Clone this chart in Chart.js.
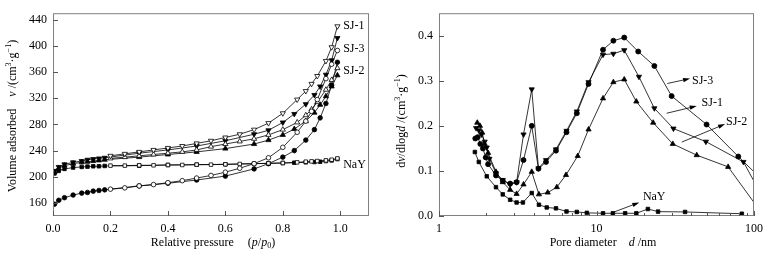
<!DOCTYPE html>
<html><head><meta charset="utf-8">
<script src="https://cdn.jsdelivr.net/npm/chart.js@4/dist/chart.umd.min.js"></script>
<style>
html,body{margin:0;padding:0;background:#fff;}
#wrap{position:relative;width:770px;height:254px;overflow:hidden;}
canvas{position:absolute;top:0;}
</style></head><body>
<div id="wrap">
<canvas id="left" width="385" height="254" style="left:0"></canvas>
<canvas id="right" width="385" height="254" style="left:385px"></canvas>
</div>
<script>
// ---------- Left chart: N2 isotherms ----------
const pAds = [0.005,0.02,0.04,0.07,0.10,0.12,0.14,0.16,0.18,0.30,0.40,0.50,0.60,0.70,0.75,0.80,0.84,0.88,0.91,0.93,0.95,0.97,0.99];
const pDes = [0.99,0.97,0.95,0.92,0.90,0.88,0.85,0.80,0.75,0.70,0.65,0.60,0.55,0.50,0.45,0.40,0.35,0.30,0.25,0.20];
const sj1Ads = [209,215,219,222,224,226,227,228,229,236,241,247,255,265,271,283,296,311,325,338,356,378,412];
const sj1Des = [430,398,377,354,342,331,318,297,282,272,265,260,255,251,247,244,241,238,235,232];
const sj3Ads = [158,164,168,172,175,176,178,179,180,186,190,195,201,212,220,230,240,256,272,290,312,340,375];
const sj3Des = [393,372,350,318,300,285,268,245,229,220,213,207,202,198,194,191,188,186,183,181];
const sj2Ads = [207,213,217,220,222,223,224,225,226,230,234,238,243,250,256,264,273,285,298,310,323,338,355];
const sj2Des = [366,348,333,314,303,294,283,272,264,258,254,250,246,241,238,236,234,232,230,228];
const naYAds = [205,209,212,214,215,215.5,216,216,216.5,217,218,218.5,219,220,220.5,221,221.5,222,222.5,223,224,225,227];
const naYDes = [228,226,225,224,223.5,223,222,221,220.5,220,219.5,219,218.5,218.5,218,218,217.5,217.5,217,217];
const leftXTicks = [0.0,0.2,0.4,0.6,0.8,1.0];
const leftYTicks = [160,200,240,280,320,360,400,440];

// ---------- Right chart: BJH pore size distribution ----------
const dSJ1 = [1.72,1.79,1.86,1.95,2.01,2.09,2.30,2.54,2.83,3.11,3.44,3.88,4.28,4.78,5.53,6.45,7.50,8.90,11.0,12.8,15.0,18.6,23.3,30.8,49.5,85.7,100];
const vSJ1 = [0.195,0.190,0.181,0.165,0.152,0.127,0.095,0.080,0.070,0.075,0.181,0.281,0.106,0.124,0.148,0.189,0.232,0.297,0.358,0.360,0.368,0.309,0.239,0.194,0.165,0.120,0.077];
const dSJ3 = [1.70,1.76,1.83,1.90,1.98,2.05,2.30,2.54,2.83,3.11,3.44,3.88,4.28,4.78,5.53,6.45,7.50,8.90,11.0,12.8,15.0,18.4,23.3,30.0,50.0,79.5,100];
const vSJ3 = [0.172,0.175,0.160,0.150,0.130,0.115,0.090,0.078,0.072,0.075,0.124,0.200,0.105,0.120,0.145,0.186,0.228,0.293,0.369,0.389,0.396,0.365,0.333,0.266,0.203,0.132,0.098];
const dSJ2 = [1.75,1.82,1.88,1.95,2.05,2.30,2.54,2.83,3.11,3.44,3.88,4.31,4.90,5.60,6.40,7.60,8.90,11.0,12.8,15.0,17.9,22.9,30.5,43.3,68.5,100];
const vSJ2 = [0.207,0.200,0.185,0.160,0.140,0.098,0.075,0.058,0.049,0.070,0.098,0.048,0.052,0.064,0.091,0.133,0.192,0.261,0.297,0.303,0.254,0.207,0.160,0.135,0.109,0.030];
const dNaY = [1.69,1.79,2.01,2.30,2.54,2.83,3.11,3.41,3.88,4.31,4.83,5.53,6.45,7.50,8.68,11.0,12.7,15.2,17.9,21.2,24.6,36.5,83.7];
const vNaY = [0.142,0.120,0.088,0.064,0.048,0.036,0.030,0.030,0.051,0.025,0.019,0.017,0.010,0.009,0.007,0.006,0.006,0.006,0.006,0.0155,0.0097,0.009,0.005];
const rightXTicks = [1,10,100];
const rightXMinor = [2,3,4,5,6,7,8,9,20,30,40,50,60,70,80,90];
const rightYTicks = [0.0,0.1,0.2,0.3,0.4];

const FONT = '"Liberation Serif","Times New Roman",serif';
const pts = (xs, ys) => xs.map((x,i)=>({x, y: ys[i]}));

function ds(xs, ys, style, filled, rot, radius){
  return {
    data: pts(xs, ys), showLine: true, borderColor:'#000', borderWidth:0.8,
    pointStyle: style, rotation: rot||0,
    pointBackgroundColor: filled ? '#000' : '#fff', pointBorderColor:'#000', pointBorderWidth:0.8,
    pointRadius: c => (c.raw && c.raw.x >= 100) ? 0 : (radius||2.5),
    tension:0
  };
}

function fontFor(s, base){
  const size = (s.sup||s.sub) ? Math.round(base*0.68) : base;
  return (s.i ? 'italic ' : '') + size + 'px ' + FONT;
}
function drawRich(ctx, segs, cx, cy, rot, base){
  ctx.save();
  ctx.translate(cx, cy);
  if (rot) ctx.rotate(-Math.PI/2);
  let w = 0;
  segs.forEach(s => { if (s.gap){ s.w = s.gap; } else { ctx.font = fontFor(s, base); s.w = ctx.measureText(s.t).width; } w += s.w; });
  let x = -w/2;
  ctx.textBaseline = 'middle'; ctx.textAlign = 'left'; ctx.fillStyle = '#000';
  segs.forEach(s => {
    if (!s.gap){ ctx.font = fontFor(s, base); ctx.fillText(s.t, x, s.sup ? -4 : (s.sub ? 3 : 0)); }
    x += s.w;
  });
  ctx.restore();
}

const decor = {
  id: 'decor',
  afterDraw(chart, args, o){
    const {ctx, chartArea:a} = chart;
    const xs = chart.scales.x, ys = chart.scales.y;
    ctx.save();
    ctx.strokeStyle = '#808080'; ctx.lineWidth = 1;
    ctx.strokeRect(a.left+0.5, a.top+0.5, a.right-a.left-1, a.bottom-a.top-1);
    ctx.strokeStyle = '#555';
    ctx.beginPath();
    o.xTicks.forEach(v => { const p = Math.round(xs.getPixelForValue(v))+0.5; ctx.moveTo(p, a.bottom); ctx.lineTo(p, a.bottom-5); });
    (o.xMinor||[]).forEach(v => { const p = Math.round(xs.getPixelForValue(v))+0.5; ctx.moveTo(p, a.bottom); ctx.lineTo(p, a.bottom-3); });
    o.yTicks.forEach(v => { const p = Math.round(ys.getPixelForValue(v))+0.5; ctx.moveTo(a.left, p); ctx.lineTo(a.left+5, p); });
    ctx.stroke();
    ctx.strokeStyle = '#000'; ctx.fillStyle = '#000'; ctx.lineWidth = 0.8;
    (o.arrows||[]).forEach(r => {
      const x1 = xs.getPixelForValue(r.x1), y1 = ys.getPixelForValue(r.y1);
      const x2 = xs.getPixelForValue(r.x2), y2 = ys.getPixelForValue(r.y2);
      const ang = Math.atan2(y2-y1, x2-x1);
      ctx.beginPath(); ctx.moveTo(x1,y1); ctx.lineTo(x2 - 5*Math.cos(ang), y2 - 5*Math.sin(ang)); ctx.stroke();
      ctx.beginPath();
      ctx.moveTo(x2, y2);
      ctx.lineTo(x2 - 7*Math.cos(ang) + 2.2*Math.sin(ang), y2 - 7*Math.sin(ang) - 2.2*Math.cos(ang));
      ctx.lineTo(x2 - 7*Math.cos(ang) - 2.2*Math.sin(ang), y2 - 7*Math.sin(ang) + 2.2*Math.cos(ang));
      ctx.closePath(); ctx.fill();
    });
    ctx.font = '12px ' + FONT; ctx.textAlign = 'left'; ctx.textBaseline = 'middle'; ctx.fillStyle = '#000';
    (o.labels||[]).forEach(l => ctx.fillText(l.t, xs.getPixelForValue(l.x), ys.getPixelForValue(l.y)));
    ctx.restore();
    drawRich(ctx, o.xTitle.segs, o.xTitle.x, o.xTitle.y, false, 12);
    drawRich(ctx, o.yTitle.segs, o.yTitle.x, o.yTitle.y, true, 12);
  }
};

function baseOptions(xScale, yScale, decorOpts){
  return {
    responsive:false, animation:false, events:[],
    layout:{padding:{top:8, right:16, left:0, bottom:0}},
    plugins:{legend:{display:false}, tooltip:{enabled:false}, decor: decorOpts},
    scales:{ x: xScale, y: yScale }
  };
}
const tickFont = {family: FONT, size: 12};
const noGrid = {display:false, drawTicks:false, tickLength:0};

new Chart(document.getElementById('left'), {
  type:'scatter',
  data:{ datasets:[
    ds(pDes, sj1Des, 'triangle', false, 180, 3),
    ds(pDes, sj3Des, 'circle', false, 0, 2.3),
    ds(pDes, sj2Des, 'triangle', false, 0, 3),
    ds(pDes, naYDes, 'rect', false, 0, 2.5),
    ds(pAds, sj1Ads, 'triangle', true, 180, 3),
    ds(pAds, sj3Ads, 'circle', true, 0, 2.3),
    ds(pAds, sj2Ads, 'triangle', true, 0, 3),
    ds(pAds, naYAds, 'rect', true, 0, 2.5)
  ]},
  plugins:[decor],
  options: baseOptions(
    { type:'linear', min:0, max:1.1,
      afterBuildTicks: s => { s.ticks = leftXTicks.map(v=>({value:v})); },
      afterFit: s => { s.height = 38; },
      grid:noGrid, border:{display:false},
      ticks:{font:tickFont, color:'#000', padding:6, maxRotation:0, callback: v => Number(v).toFixed(1)} },
    { type:'linear', min:140, max:450,
      afterBuildTicks: s => { s.ticks = leftYTicks.map(v=>({value:v})); },
      afterFit: s => { s.width = 53; },
      grid:noGrid, border:{display:false},
      ticks:{font:tickFont, color:'#000', padding:6, callback: v => String(v)} },
    { xTicks: leftXTicks, yTicks: leftYTicks,
      labels:[{t:'SJ-1',x:1.01,y:430},{t:'SJ-3',x:1.01,y:395},{t:'SJ-2',x:1.01,y:362},{t:'NaY',x:1.01,y:218}],
      xTitle:{x:213, y:243, segs:[{t:'Relative pressure'},{gap:14},{t:'('},{t:'p',i:true},{t:'/'},{t:'p',i:true},{t:'0',sub:true},{t:')'}]},
      yTitle:{x:13, y:116, segs:[{t:'Volume adsorbed'},{gap:12},{t:'v',i:true},{t:' /(cm'},{t:'3',sup:true},{t:'·g'},{t:'−1',sup:true},{t:')'}]}
    })
});

new Chart(document.getElementById('right'), {
  type:'scatter',
  data:{ datasets:[
    ds(dSJ3, vSJ3, 'circle', true, 0, 2.5),
    ds(dSJ1, vSJ1, 'triangle', true, 180, 3),
    ds(dSJ2, vSJ2, 'triangle', true, 0, 3),
    ds(dNaY, vNaY, 'rect', true, 0, 2.5)
  ]},
  plugins:[decor],
  options: baseOptions(
    { type:'logarithmic', min:1, max:100,
      afterBuildTicks: s => { s.ticks = rightXTicks.map(v=>({value:v})); },
      afterFit: s => { s.height = 38; },
      grid:noGrid, border:{display:false},
      ticks:{font:tickFont, color:'#000', padding:6, maxRotation:0, autoSkip:false, callback: v => String(v)} },
    { type:'linear', min:0, max:0.45,
      afterBuildTicks: s => { s.ticks = rightYTicks.map(v=>({value:v})); },
      afterFit: s => { s.width = 54; },
      grid:noGrid, border:{display:false},
      ticks:{font:tickFont, color:'#000', padding:6, callback: v => Number(v).toFixed(1)} },
    { xTicks: rightXTicks, xMinor: rightXMinor, yTicks: rightYTicks,
      labels:[{t:'SJ-3',x:40.4,y:0.301},{t:'SJ-1',x:46.5,y:0.251},{t:'SJ-2',x:66.4,y:0.209},{t:'NaY',x:19.7,y:0.043}],
      arrows:[{x1:28.15,y1:0.294,x2:39.3,y2:0.305},{x1:27.9,y1:0.228,x2:43.3,y2:0.244},{x1:34.8,y1:0.164,x2:65.5,y2:0.204},{x1:12.5,y1:0.007,x2:18.7,y2:0.030}],
      xTitle:{x:603-385, y:243, segs:[{t:'Pore diameter'},{gap:12},{t:'d',i:true},{t:' /nm'}]},
      yTitle:{x:402-385, y:121, segs:[{t:'d'},{t:'v',i:true},{t:'/dlog'},{t:'d',i:true},{t:' /(cm'},{t:'3',sup:true},{t:'·g'},{t:'−1',sup:true},{t:')'}]}
    })
});
</script>
</body></html>
